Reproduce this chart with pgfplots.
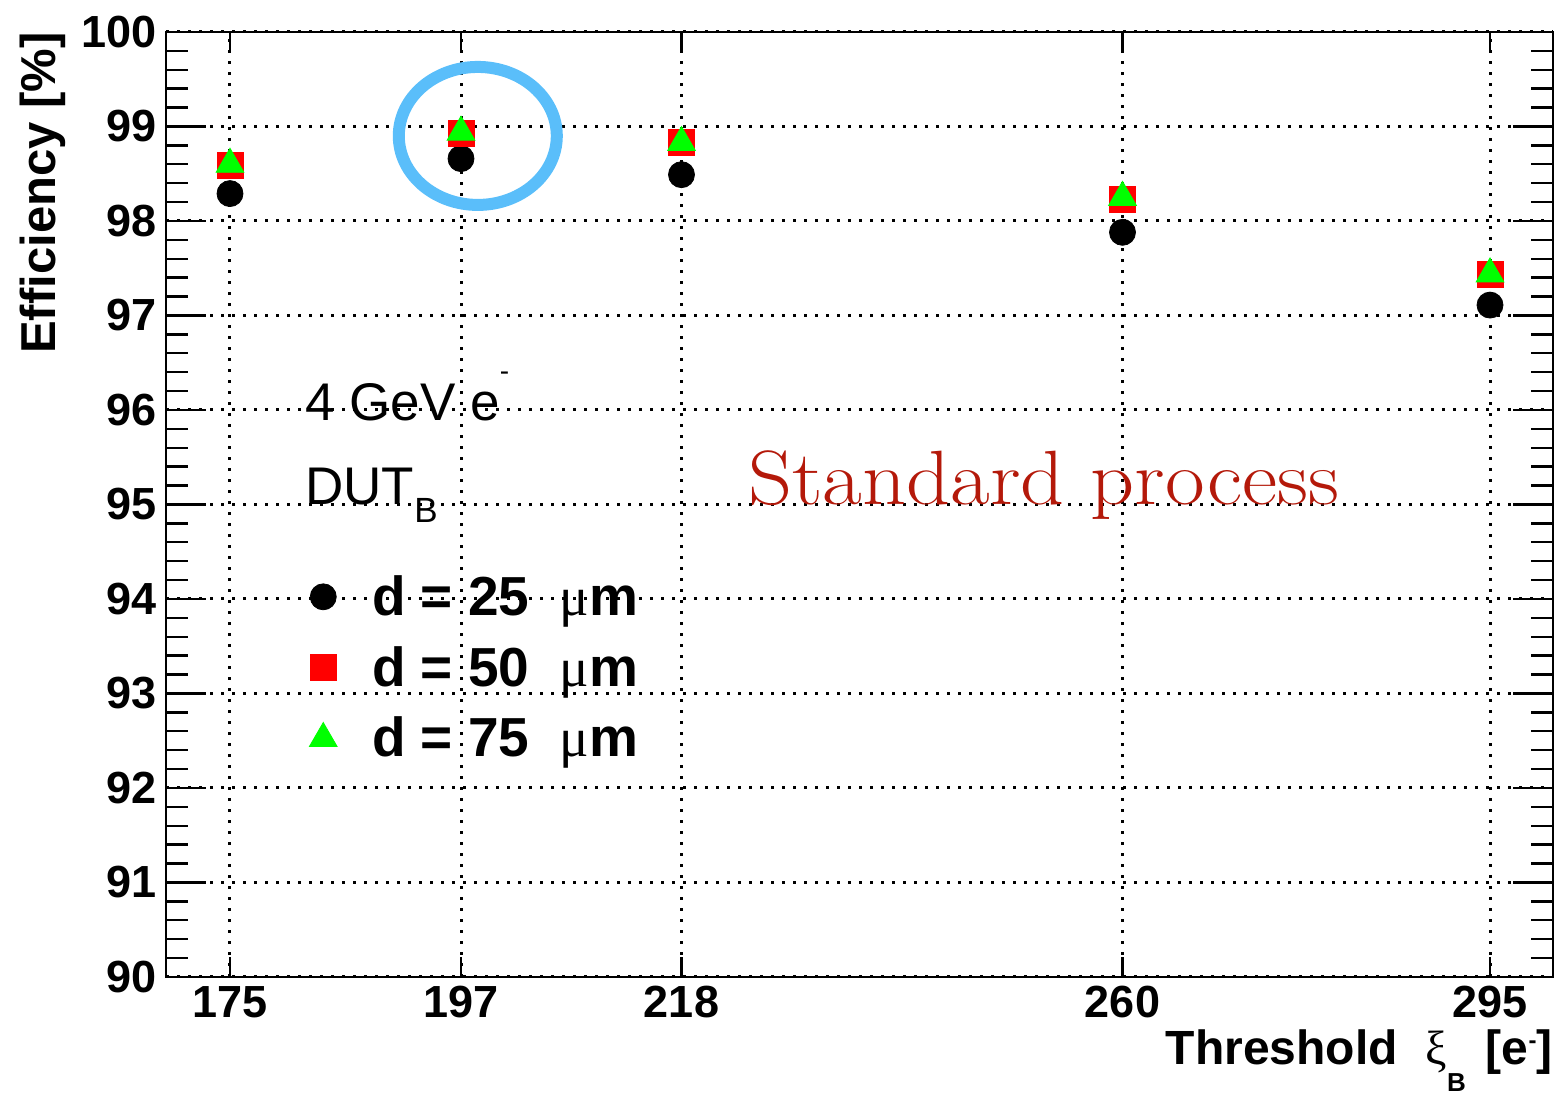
\documentclass[border=0pt]{standalone}
\usepackage{fontspec}
\setsansfont{Liberation Sans}
\newfontfamily\symf{Liberation Serif}
\usepackage{pgfplots}
\pgfplotsset{compat=1.18}
\definecolor{ringblue}{RGB}{90,190,250}
\definecolor{procred}{RGB}{180,25,10}
\definecolor{mgreen}{RGB}{0,255,0}
\definecolor{mred}{RGB}{255,0,0}
\begin{document}
\begin{tikzpicture}
\useasboundingbox (0,0) rectangle (781pt,548pt);
\begin{axis}[
  at={(83pt,59.5pt)}, anchor=south west,
  scale only axis, width=693.5pt, height=472.5pt,
  xmin=168.905, xmax=301, ymin=90, ymax=100,
  xtick={175,197,218,260,295},
  ytick={90,91,...,100},
  minor y tick num=4,
  tick align=inside,
  major tick length=20pt, minor tick length=11pt,
  xtick style={/pgfplots/major tick length=10pt},
  tick style={black, line width=1.2pt},
  axis line style={line width=1.3pt},
  grid=major,
  major grid style={black, line width=1.5pt, dash pattern=on 1.5pt off 4pt},
  /pgf/number format/assume math mode=true,
  ticklabel style={font=\sffamily\bfseries\fontsize{22.5}{22.5}\selectfont, inner sep=0pt},
  xticklabel style={yshift=-4.5pt},
  yticklabel style={xshift=-4.5pt},
  xlabel={Threshold\hspace{14pt}{\symf\mdseries ξ}\raisebox{-13.5pt}{\fontsize{13}{13}\selectfont B}\hspace{10pt}[e\raisebox{8pt}{\fontsize{12}{12}\selectfont -}]},
  xlabel style={at={(axis description cs:1,0)}, anchor=base east, yshift=-44pt, inner sep=0pt, font=\sffamily\bfseries\fontsize{24}{24}\selectfont},
  ylabel={Efficiency [\%]},
  ylabel style={at={(axis description cs:-0.0800,1)}, anchor=base east, inner sep=0pt, font=\sffamily\bfseries\fontsize{24.5}{24.5}\selectfont},
  legend image code/.code={\draw[#1] plot coordinates {(0pt,0pt)};},
  legend style={at={(0.1031,0.4254)}, anchor=north west, draw=none, fill=none, inner sep=0pt, row sep=14pt,
    font=\sffamily\bfseries\fontsize{27.5}{27.5}\selectfont, nodes={inner sep=0pt},
    /tikz/every odd column/.style={column sep=17.5pt}},
  legend cell align=left,
]
\addplot[only marks, mark=*, mark size=6.5pt, black] coordinates {(175,98.29)(197,98.66)(218,98.49)(260,97.88)(295,97.11)};
\addlegendentry{d = 25\hspace{0.55em}{\symf\mdseries μ}m}
\addplot[only marks, mark=square*, mark size=6.5pt, color=mred] coordinates {(175,98.59)(197,98.93)(218,98.83)(260,98.23)(295,97.43)};
\addlegendentry{d = 50\hspace{0.55em}{\symf\mdseries μ}m}
\addplot[only marks, mark=triangle*, mark size=8pt, color=mgreen] coordinates {(175,98.60)(197,98.94)(218,98.83)(260,98.25)(295,97.44)};
\addlegendentry{d = 75\hspace{0.55em}{\symf\mdseries μ}m}
\draw[ringblue, line width=6pt] (axis cs:198.6,98.90) ellipse [x radius=39.5pt, y radius=34.5pt];
\node[anchor=base west, inner sep=0pt, font=\sffamily\fontsize{26.5}{26.5}\selectfont] at (axis cs:182.14,95.894) {4 GeV e\raisebox{20pt}{\fontsize{14}{14}\selectfont -}};
\node[anchor=base west, inner sep=0pt, font=\sffamily\fontsize{26.5}{26.5}\selectfont] at (axis cs:182.14,95.005) {DUT\raisebox{-9pt}{\fontsize{17.5}{17.5}\selectfont B}};
\node[anchor=base west, inner sep=0pt, font=\rmfamily\fontsize{38.5}{38.5}\selectfont, text=procred] at (axis cs:224.33,95.0) {\scalebox{1.12}[1]{Standard process}};
\end{axis}
\end{tikzpicture}
\end{document}
